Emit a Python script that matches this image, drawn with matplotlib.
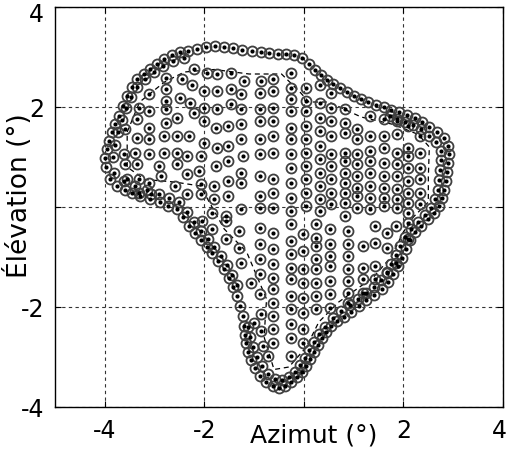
import matplotlib
matplotlib.use("Agg")
import matplotlib.pyplot as plt
import matplotlib.transforms as mtransforms
import numpy as np

# outer ring of markers along the region edge (azimut, elevation in degrees)
edge_x = [-3.99, -3.98, -3.90, -3.75, -3.60, -3.45, -3.30, -3.10, -2.90, -2.72,
          -2.55, -2.42, -2.30, -2.18, -2.06, -1.95, -1.84, -1.72, -1.60, -1.50,
          -1.42, -1.35, -1.28, -1.23, -1.20, -1.18, -1.17, -1.12, -1.06, -0.98,
          -0.88, -0.76, -0.63, -0.50, -0.38, -0.26, -0.14, -0.04, 0.04, 0.12,
          0.20, 0.28, 0.36, 0.44, 0.54, 0.66, 0.80, 0.95, 1.10, 1.25,
          1.40, 1.56, 1.68, 1.80, 1.90, 1.98, 2.06, 2.14, 2.24, 2.36,
          2.50, 2.62, 2.72, 2.78, 2.82, 2.85, 2.87, 2.89, 2.91, 2.90,
          2.82, 2.68, 2.52, 2.38, 2.24, 2.08, 1.92, 1.76, 1.60, 1.44,
          1.28, 1.14, 1.00, 0.86, 0.72, 0.58, 0.46, 0.34, 0.22, 0.10,
          -0.04, -0.20, -0.36, -0.52, -0.70, -0.87, -1.05, -1.24, -1.42, -1.60,
          -1.78, -1.96, -2.14, -2.32, -2.48, -2.65, -2.81, -2.95, -3.09, -3.22,
          -3.35, -3.46, -3.56, -3.64, -3.72, -3.79, -3.86, -3.91, -3.96]
edge_y = [0.99, 0.80, 0.56, 0.42, 0.35, 0.28, 0.22, 0.16, 0.10, 0.03,
          -0.04, -0.20, -0.38, -0.52, -0.66, -0.80, -0.92, -1.08, -1.24, -1.42,
          -1.60, -1.78, -1.98, -2.18, -2.38, -2.55, -2.72, -2.90, -3.06, -3.22,
          -3.38, -3.50, -3.58, -3.62, -3.58, -3.50, -3.40, -3.30, -3.18, -3.04,
          -2.90, -2.76, -2.62, -2.50, -2.38, -2.28, -2.20, -2.10, -1.98, -1.86,
          -1.76, -1.64, -1.50, -1.34, -1.18, -1.02, -0.84, -0.66, -0.50, -0.38,
          -0.24, -0.12, 0.02, 0.18, 0.34, 0.52, 0.70, 0.88, 1.06, 1.22,
          1.38, 1.50, 1.60, 1.70, 1.78, 1.84, 1.90, 1.95, 2.00, 2.04,
          2.10, 2.16, 2.22, 2.30, 2.38, 2.46, 2.54, 2.64, 2.74, 2.86,
          2.98, 3.04, 3.06, 3.06, 3.08, 3.10, 3.12, 3.14, 3.18, 3.20,
          3.22, 3.20, 3.16, 3.13, 3.10, 3.04, 2.96, 2.86, 2.76, 2.66,
          2.56, 2.40, 2.22, 2.02, 1.82, 1.66, 1.50, 1.33, 1.16]

# second ring just inside the edge
ring_x = [-3.83, -3.80, -3.74, -3.66, -3.58, -3.48, -3.36, -3.20, -3.02, -2.84,
          -2.62, -2.40, -3.82, -3.62, -3.40, -3.15, -2.92, -2.70, -2.50, -2.34,
          -2.20, -2.06, -1.92, -1.80, -1.66, -1.54, -1.44, -1.34, -1.12, -1.08,
          -1.02, -0.94, -0.84, -0.72, -0.58, -0.44, -0.30, -0.18, -0.08, 0.02,
          0.10, 0.20, 0.30, 0.42, 0.58, 0.75, 0.92, 1.08, 1.24, 1.40,
          1.54, 1.66, 1.76, 1.85, 1.94, 2.04, 2.16, 2.30, 2.44, 2.56,
          2.64, 2.70, 2.72, 2.74, 2.76, 2.76, 2.66, 2.52, 2.36, 2.20,
          2.04, 1.88, 1.72]
ring_y = [1.00, 1.25, 1.50, 1.75, 1.98, 2.20, 2.40, 2.56, 2.70, 2.82,
          2.92, 2.98, 0.68, 0.52, 0.42, 0.34, 0.26, 0.18, 0.10, -0.10,
          -0.30, -0.48, -0.64, -0.80, -0.98, -1.16, -1.36, -1.56, -2.40, -2.60,
          -2.80, -3.00, -3.18, -3.34, -3.44, -3.46, -3.40, -3.30, -3.16, -3.02,
          -2.86, -2.70, -2.54, -2.40, -2.22, -2.08, -1.96, -1.84, -1.72, -1.60,
          -1.46, -1.30, -1.14, -0.96, -0.78, -0.60, -0.44, -0.30, -0.16, -0.02,
          0.16, 0.34, 0.54, 0.74, 0.94, 1.12, 1.30, 1.42, 1.56, 1.64,
          1.70, 1.76, 1.82]

# interior sampling points
grid_pts = [
    (-2.78, 2.59), (-2.44, 2.56), (-2.21, 2.76), (-1.94, 2.69), (-1.74, 2.66),
    (-1.47, 2.69), (-1.20, 2.53), (-0.86, 2.53), (-0.63, 2.56),
    (-2.78, 2.36), (-2.24, 2.43), (-2.01, 2.33), (-1.74, 2.33), (-1.47, 2.36),
    (-1.27, 2.26), (-0.89, 2.29), (-0.63, 2.33), (-3.12, 2.26),
    (-2.78, 2.13), (-2.48, 2.19), (-2.28, 2.09), (-2.01, 1.99), (-1.74, 1.96),
    (-1.47, 2.06), (-1.27, 1.96), (-0.89, 1.96), (-0.63, 1.99),
    (-3.32, 1.99), (-3.12, 1.93), (-2.78, 1.96), (-2.55, 1.79), (-2.21, 1.89),
    (-2.01, 1.73), (-1.77, 1.59), (-1.53, 1.63), (-1.27, 1.66), (-0.89, 1.73),
    (-0.63, 1.73), (-3.59, 1.56), (-3.35, 1.76), (-3.12, 1.59), (-2.78, 1.69),
    (-2.55, 1.43), (-2.31, 1.43), (-1.74, 1.19), (-1.53, 1.23), (-1.27, 1.36),
    (-0.89, 1.36), (-0.63, 1.43), (-3.35, 1.39), (-3.12, 1.36), (-2.81, 1.43),
    (-2.01, 1.29), (-3.62, 1.06), (-3.39, 1.09), (-3.12, 1.06), (-2.81, 1.09),
    (-2.55, 1.09), (-2.34, 1.03), (-2.07, 1.03), (-1.77, 0.83), (-1.53, 0.93),
    (-1.23, 1.03), (-0.89, 1.06), (-0.63, 1.09), (-3.59, 0.86), (-3.35, 0.86),
    (-2.92, 0.83), (-2.55, 0.86), (-2.11, 0.73), (-3.56, 0.56), (-3.32, 0.56),
    (-3.12, 0.49), (-2.88, 0.63), (-2.58, 0.43), (-2.34, 0.66), (-2.07, 0.46),
    (-1.80, 0.43), (-1.53, 0.53), (-1.27, 0.69), (-1.27, 0.49), (-0.89, 0.63),
    (-0.63, 0.56), (-3.32, 0.29), (-3.08, 0.26), (-2.34, 0.26), (-2.07, 0.26),
    (-1.80, 0.16), (-1.53, 0.23), (-0.89, 0.23), (-0.63, 0.29), (-1.27, -0.04),
    (-0.89, -0.01), (-0.63, -0.01), (-1.84, -0.11), (-1.57, -0.17),
    # upper right part
    (-0.26, 2.69), (-0.26, 2.39), (-0.26, 2.16), (-0.26, 1.93), (-0.26, 1.59),
    (-0.26, 1.36), (-0.26, 1.06), (-0.26, 0.79), (-0.26, 0.49), (-0.26, 0.19),
    (-0.26, -0.07), (0.05, 2.39), (0.05, 2.13), (0.05, 1.93), (0.05, 1.63),
    (0.05, 1.36), (0.05, 1.09), (0.05, 0.83), (0.05, 0.56), (0.05, 0.29),
    (0.05, 0.03), (0.32, 2.43), (0.32, 2.09), (0.32, 1.79), (0.32, 1.53),
    (0.32, 1.23), (0.32, 0.96), (0.32, 0.69), (0.32, 0.43), (0.32, 0.16),
    (0.32, -0.07), (0.55, 2.29), (0.55, 1.99), (0.55, 1.73), (0.55, 1.43),
    (0.55, 1.06), (0.55, 0.83), (0.55, 0.56), (0.55, 0.29), (0.55, 0.06),
    (0.82, 1.96), (0.82, 1.69), (0.82, 1.49), (0.82, 1.09), (0.82, 0.93),
    (0.82, 0.69), (0.82, 0.49), (0.82, 0.29), (0.82, 0.09), (0.82, -0.17),
    (1.06, 1.56), (1.06, 1.36), (1.06, 1.06), (1.06, 0.86), (1.06, 0.63),
    (1.06, 0.39), (1.06, 0.23), (1.06, -0.01), (1.33, 1.83), (1.33, 1.43),
    (1.33, 1.13), (1.33, 0.93), (1.33, 0.69), (1.33, 0.43), (1.33, 0.19),
    (1.33, -0.04), (1.60, 1.76), (1.60, 1.43), (1.60, 1.19), (1.60, 0.89),
    (1.60, 0.63), (1.60, 0.39), (1.60, 0.19), (1.60, 0.03), (1.87, 1.73),
    (1.87, 1.46), (1.87, 1.09), (1.87, 0.86), (1.87, 0.63), (1.87, 0.36),
    (1.87, 0.16), (1.87, -0.01), (2.10, 1.63), (2.10, 1.19), (2.10, 1.03),
    (2.10, 0.79), (2.10, 0.53), (2.10, 0.29), (2.10, 0.09), (2.10, -0.11),
    (2.34, 1.43), (2.34, 1.09), (2.34, 0.79), (2.34, 0.56), (2.34, 0.29),
    (2.34, 0.06),
    # lower right part
    (-0.26, -0.34), (-0.26, -0.67), (-0.26, -0.94), (-0.26, -1.21),
    (-0.26, -1.44), (-0.26, -1.77), (-0.26, -2.04), (-0.26, -2.34),
    (-0.26, -2.61), (-0.26, -2.97), (-0.02, -0.54), (-0.02, -0.87),
    (-0.02, -1.24), (-0.02, -1.51), (-0.02, -1.81), (-0.02, -2.11),
    (-0.02, -2.44), (-0.02, -2.71), (0.25, -0.34), (0.25, -0.61),
    (0.25, -0.77), (0.25, -1.04), (0.25, -1.24), (0.25, -1.51), (0.25, -1.77),
    (0.25, -2.04), (0.52, -0.44), (0.52, -0.74), (0.52, -0.97), (0.52, -1.17),
    (0.52, -1.47), (0.52, -1.74), (0.52, -2.01), (0.89, -0.47), (0.89, -0.74),
    (0.89, -0.97), (0.89, -1.24), (0.89, -1.47), (0.89, -1.71), (0.89, -1.91),
    (1.19, -0.77), (1.19, -1.21), (1.19, -1.44), (1.19, -1.71), (1.43, -0.37),
    (1.43, -0.71), (1.43, -1.17), (1.43, -1.44), (1.66, -0.51), (1.66, -0.81),
    (1.66, -1.31), (1.86, -0.37), (1.86, -1.11), (2.10, -0.31), (2.10, -0.64),
    # lower left part
    (-2.04, -0.27), (-1.84, -0.44), (-1.57, -0.27), (-1.30, -0.47),
    (-1.57, -0.64), (-1.30, -0.81), (-0.89, -0.41), (-0.89, -0.74),
    (-0.63, -0.51), (-0.63, -0.84), (-0.89, -1.04), (-1.27, -1.11),
    (-0.63, -1.14), (-0.89, -1.34), (-0.63, -1.41), (-1.06, -1.51),
    (-0.89, -1.74), (-0.63, -1.64), (-0.63, -1.91), (-0.86, -2.14),
    (-1.00, -2.31), (-0.63, -2.17), (-0.86, -2.47), (-0.63, -2.44),
    (-0.83, -2.77), (-0.63, -2.71), (-0.73, -2.97),
]

# dashed contour inside the region
contour_x = [-3.55, -3.55, -3.30, -2.80, -2.40, -1.80, -1.10, -0.45, -0.08, 0.10,
             0.50, 1.15, 1.80, 2.30, 2.52, 2.50, 2.50, 2.20, 2.00, 1.75,
             1.40, 0.70, 0.30, 0.05, -0.30, -0.60, -0.80, -0.75, -1.15, -1.60,
             -2.08, -2.60, -3.20, -3.55]
contour_y = [0.80, 1.50, 2.10, 2.50, 2.70, 2.75, 2.66, 2.66, 2.30, 2.10,
             2.10, 1.80, 1.65, 1.45, 1.20, 0.60, 0.10, -0.20, -0.50, -1.00,
             -1.40, -1.90, -2.30, -2.80, -3.20, -3.25, -2.60, -1.84, -0.90, -0.44,
             0.42, 0.50, 0.55, 0.80]

xticks = [-4, -2, 0, 2, 4]
xtick_labels = ["-4", "-2", "", "2", "4"]
yticks = [-4, -2, 0, 2, 4]
ytick_labels = ["-4", "-2", "", "2", "4"]

gx = np.array([p[0] for p in grid_pts])
gy = np.array([p[1] for p in grid_pts])
all_x = np.concatenate([edge_x, ring_x, gx])
all_y = np.concatenate([edge_y, ring_y, gy])

plt.rcParams["font.family"] = "DejaVu Sans"
fig = plt.figure(figsize=(5.08, 4.52), dpi=100)
ax = fig.add_axes([55 / 508, 44 / 452, 448 / 508, 400 / 452])

ax.plot(contour_x, contour_y, color="k", lw=0.9, ls=(0, (4, 3)), zorder=2)
ax.plot(all_x, all_y, ls="none", marker="o", ms=7.2, mfc="none",
        mec="#404040", mew=1.3, zorder=3)
ax.plot(all_x, all_y, ls="none", marker="o", ms=3.0, mfc="k", mec="k",
        mew=0, zorder=4)

ax.set_xlim(-5, 4)
ax.set_ylim(-4, 4)
ax.set_xticks(xticks)
ax.set_xticklabels(xtick_labels)
ax.set_yticks(yticks)
ax.set_yticklabels(ytick_labels)
ax.tick_params(direction="in", length=4, width=0.8, labelsize=17,
               top=True, right=True, pad=8)
ax.grid(True, color="#333333", lw=0.8, ls=(0, (3, 3)))
ax.set_axisbelow(True)
for s in ax.spines.values():
    s.set_linewidth(1.0)

# keep the end labels inside the figure, as in the original
last_x = ax.get_xticklabels()[-1]
last_x.set_transform(last_x.get_transform() +
                     mtransforms.ScaledTranslation(-4 / 100, 0, fig.dpi_scale_trans))
top_y = ax.get_yticklabels()[-1]
top_y.set_transform(top_y.get_transform() +
                    mtransforms.ScaledTranslation(0, -5 / 100, fig.dpi_scale_trans))

ax.set_xlabel("Azimut (°)", fontsize=18)
ax.xaxis.set_label_coords(0.578, -0.04)
ax.set_ylabel("Élévation (°)", fontsize=19)
ax.yaxis.set_label_coords(-0.05, 0.53)

fig.savefig("out.png", dpi=100)
